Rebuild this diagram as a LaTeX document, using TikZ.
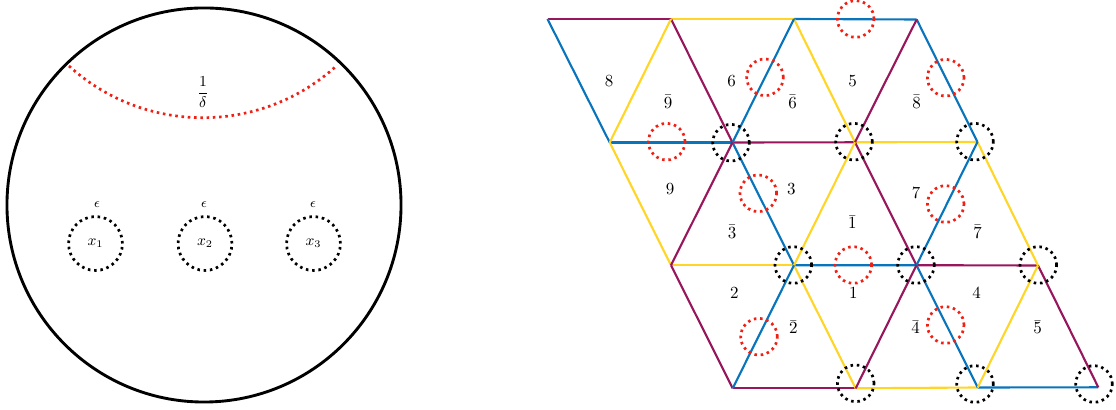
\documentclass[tikz,border=0pt]{standalone}
\usetikzlibrary{calc}
\definecolor{cpur}{RGB}{152,22,92}
\definecolor{cblu}{RGB}{8,116,188}
\definecolor{cyel}{RGB}{255,214,40}
\definecolor{cred}{RGB}{240,32,20}
\begin{document}
\begin{tikzpicture}[x=0.59pt,y=-0.59pt,
  edge/.style={line width=1.25pt},
  pu/.style={edge,draw=cpur},
  bl/.style={edge,draw=cblu},
  ye/.style={edge,draw=cyel},
  bdot/.style={draw=black,line width=1.6pt,dash pattern=on 1.5pt off 2.2pt},
  rdot/.style={draw=cred,line width=1.6pt,dash pattern=on 1.5pt off 2.2pt},
  vring/.style={bdot,circle,minimum size=21.6pt,inner sep=0pt},
  rring/.style={rdot,circle,minimum size=21.6pt,inner sep=0pt},
  lab/.style={inner sep=0pt}]
\useasboundingbox (0,0) rectangle (1116,410);

% ---------- left panel ----------
\node[draw=black,line width=1.7pt,circle,minimum size=232.5pt,inner sep=0pt] (disk) at (204,205) {};
\coordinate (arcL) at (69,66);
\draw[rdot] (arcL) arc[start angle=227.7,end angle=312.3,radius=117.2pt];
\node[lab,font=\small] (delta) at (203,92) {$\displaystyle\frac{1}{\delta}$};
\node[bdot,circle,minimum size=31.8pt,inner sep=0pt,font=\small] (p1) at (95.5,243.5) {$x_1$};
\node[bdot,circle,minimum size=31.8pt,inner sep=0pt,font=\small] (p2) at (205,243.5) {$x_2$};
\node[bdot,circle,minimum size=31.8pt,inner sep=0pt,font=\small] (p3) at (313.5,243.5) {$x_3$};
\node[lab,font=\footnotesize] (e1) at (97,205) {$\epsilon$};
\node[lab,font=\footnotesize] (e2) at (204,205) {$\epsilon$};
\node[lab,font=\footnotesize] (e3) at (313,205) {$\epsilon$};

% ---------- right panel: lattice vertices ----------
\coordinate (v00) at (547.5,19);   \coordinate (v01) at (671,19);
\coordinate (v02) at (794,19);     \coordinate (v03) at (916.7,19.5);
\coordinate (v10) at (609.7,142.5); \coordinate (v11) at (732.5,142.5);
\coordinate (v12) at (855,142.3);  \coordinate (v13) at (977.5,142);
\coordinate (v20) at (671,265.3);  \coordinate (v21) at (794,265.3);
\coordinate (v22) at (916.5,265.2); \coordinate (v23) at (1038,265.5);
\coordinate (v30) at (732.7,388.3); \coordinate (v31) at (855.7,388.3);
\coordinate (v32) at (977.7,387.5); \coordinate (v33) at (1098.3,387.3);

% horizontal edges
\draw[pu] (v00) -- (v01); \draw[ye] (v01) -- (v02); \draw[bl] (v02) -- (v03);
\draw[bl] (v10) -- (v11); \draw[pu] (v11) -- (v12); \draw[ye] (v12) -- (v13);
\draw[ye] (v20) -- (v21); \draw[bl] (v21) -- (v22); \draw[pu] (v22) -- (v23);
\draw[pu] (v30) -- (v31); \draw[ye] (v31) -- (v32); \draw[bl] (v32) -- (v33);
% down-right edges
\draw[bl] (v00) -- (v10); \draw[pu] (v01) -- (v11); \draw[ye] (v02) -- (v12); \draw[bl] (v03) -- (v13);
\draw[ye] (v10) -- (v20); \draw[bl] (v11) -- (v21); \draw[pu] (v12) -- (v22); \draw[ye] (v13) -- (v23);
\draw[pu] (v20) -- (v30); \draw[ye] (v21) -- (v31); \draw[bl] (v22) -- (v32); \draw[pu] (v23) -- (v33);
% down-left edges
\draw[ye] (v01) -- (v10); \draw[bl] (v02) -- (v11); \draw[pu] (v03) -- (v12);
\draw[pu] (v11) -- (v20); \draw[ye] (v12) -- (v21); \draw[bl] (v13) -- (v22);
\draw[bl] (v21) -- (v30); \draw[pu] (v22) -- (v31); \draw[ye] (v23) -- (v32);

% triangle labels
\node[lab] (t8)  at (609,81)    {$8$};
\node[lab] (t9b) at (668,102)   {$\bar{9}$};
\node[lab] (t6)  at (731.7,81)  {$6$};
\node[lab] (t6b) at (792.7,102) {$\bar{6}$};
\node[lab] (t5)  at (852.7,81)  {$5$};
\node[lab] (t8b) at (916.7,102) {$\bar{8}$};
\node[lab] (t9)  at (670,189.3) {$9$};
\node[lab] (t3b) at (732,232)   {$\bar{3}$};
\node[lab] (t3)  at (791.3,189.3) {$3$};
\node[lab] (t1b) at (852.3,222.3) {$\bar{1}$};
\node[lab] (t7)  at (916,193.3) {$7$};
\node[lab] (t7b) at (977.7,232) {$\bar{7}$};
\node[lab] (t2)  at (734.3,293.3) {$2$};
\node[lab] (t2b) at (793.3,327.3) {$\bar{2}$};
\node[lab] (t1)  at (853.3,293.3) {$1$};
\node[lab] (t4b) at (915.7,327.3) {$\bar{4}$};
\node[lab] (t4)  at (976.7,293.3) {$4$};
\node[lab] (t5b) at (1037.7,327.3) {$\bar{5}$};

% red dotted rings
\node[rring] (r1) at (855.7,19) {};
\node[rring] (r2) at (765,77.3) {};
\node[rring] (r3) at (945.7,77.7) {};
\node[rring] (r4) at (666.7,141.7) {};
\node[rring] (r5) at (758.3,193.3) {};
\node[rring] (r6) at (945.7,204) {};
\node[rring] (r7) at (853.3,265) {};
\node[rring] (r8) at (759,336.7) {};
\node[rring] (r9) at (945.7,325) {};

% black dotted rings at vertices
\node[vring] (b1) at (731,142.7) {};
\node[vring] (b2) at (854,141.7) {};
\node[vring] (b3) at (975,141.7) {};
\node[vring] (b4) at (793.3,265) {};
\node[vring] (b5) at (916,265) {};
\node[vring] (b6) at (1038.3,265) {};
\node[vring] (b7) at (855.7,383.3) {};
\node[vring] (b8) at (975,384) {};
\node[vring] (b9) at (1094,384) {};
\end{tikzpicture}
\end{document}
